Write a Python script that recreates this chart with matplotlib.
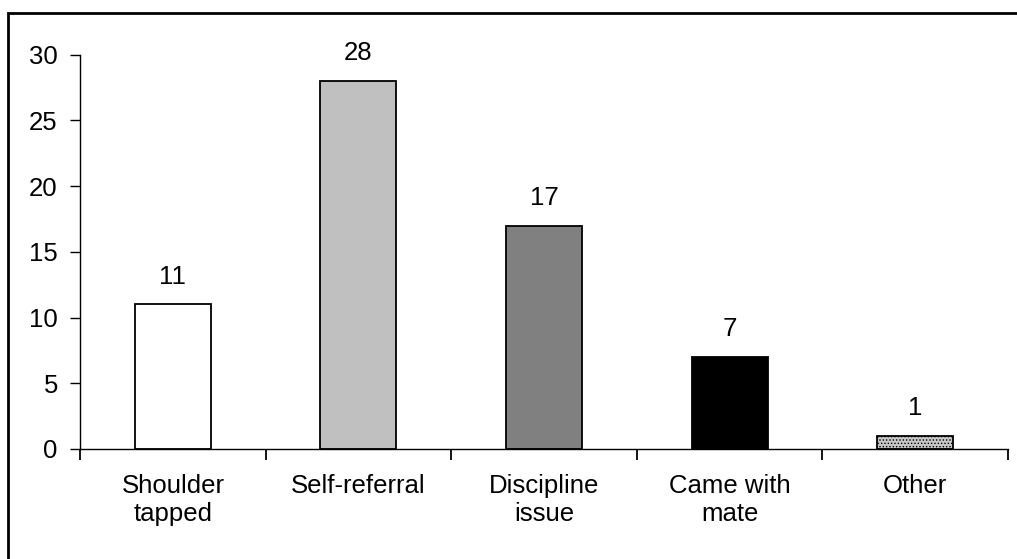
import matplotlib.pyplot as plt
from matplotlib.patches import Rectangle

categories = ["Shoulder\ntapped", "Self-referral", "Discipline\nissue", "Came with\nmate", "Other"]
counts = [11, 28, 17, 7, 1]
fills = ["#FFFFFF", "#C0C0C0", "#808080", "#000000", "#C8C8C8"]
hatches = [None, None, None, None, "....."]
yticks = [0, 5, 10, 15, 20, 25, 30]

plt.rcParams["font.family"] = ["Liberation Sans", "DejaVu Sans"]
plt.rcParams["hatch.color"] = "#8C8C8C"
plt.rcParams["hatch.linewidth"] = 0.6

FS = 18.5

fig = plt.figure(figsize=(10.17, 5.59), dpi=100)
ax = fig.add_axes([0.0787, 0.197, 0.9125, 0.705])

x = range(len(categories))
bars = ax.bar(x, counts, width=0.41, color=fills, edgecolor="black", linewidth=1.3)
for bar, h in zip(bars, hatches):
    if h:
        bar.set_hatch(h)

for xi, v in zip(x, counts):
    ax.text(xi, v + 1.2, str(v), ha="center", va="bottom", fontsize=FS)

ax.set_xlim(-0.5, len(categories) - 0.5)
ax.set_ylim(0, 30)
ax.set_yticks(yticks)
ax.tick_params(axis="y", labelsize=FS, length=7, width=1, direction="out", pad=9)

# category labels centred under bars, tick marks between categories
ax.set_xticks([i - 0.5 for i in range(len(categories) + 1)])
ax.set_xticklabels([])
ax.set_xticks(list(x), minor=True)
ax.set_xticklabels(categories, minor=True, fontsize=FS, linespacing=1.2)
ax.tick_params(axis="x", which="major", length=8, width=1.3, direction="out")
ax.tick_params(axis="x", which="minor", length=0, pad=18)

ax.spines["top"].set_visible(False)
ax.spines["right"].set_visible(False)
ax.spines["left"].set_linewidth(1)
ax.spines["bottom"].set_linewidth(1)

# frame around the whole chart area
fig.patches.append(Rectangle((8 / 1017, -0.1), 1.2, 1.1 - 13 / 559,
                             transform=fig.transFigure, fill=False,
                             edgecolor="black", linewidth=2))

fig.savefig("out.png", dpi=100)
